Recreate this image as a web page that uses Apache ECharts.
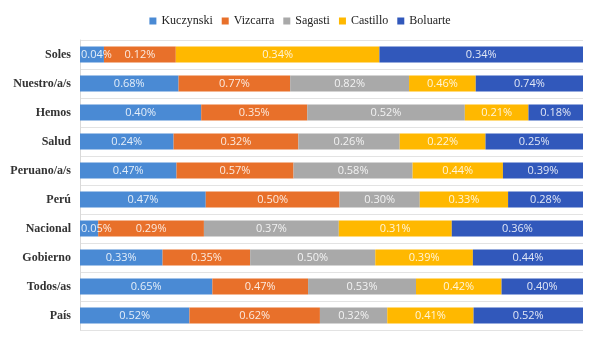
<!DOCTYPE html>
<html>
<head>
<meta charset="utf-8">
<script src="https://cdn.jsdelivr.net/npm/echarts@6/dist/echarts.min.js"></script>
<style>html,body{margin:0;padding:0;background:#fff}#chart{width:600px;height:338px}</style>
</head>
<body>
<div id="chart"></div>
<script>
// Word categories, top to bottom
const categories = ['Soles', 'Nuestro/a/s', 'Hemos', 'Salud', 'Peruano/a/s', 'Perú', 'Nacional', 'Gobierno', 'Todos/as', 'País'];
// Frequency (%) of each word per president
const kuczynski = [0.04, 0.68, 0.40, 0.24, 0.47, 0.47, 0.05, 0.33, 0.65, 0.52];
const vizcarra  = [0.12, 0.77, 0.35, 0.32, 0.57, 0.50, 0.29, 0.35, 0.47, 0.62];
const sagasti   = [0,    0.82, 0.52, 0.26, 0.58, 0.30, 0.37, 0.50, 0.53, 0.32];
const castillo  = [0.34, 0.46, 0.21, 0.22, 0.44, 0.33, 0.31, 0.39, 0.42, 0.41];
const boluarte  = [0.34, 0.74, 0.18, 0.25, 0.39, 0.28, 0.36, 0.44, 0.40, 0.52];

const seriesNames = ['Kuczynski', 'Vizcarra', 'Sagasti', 'Castillo', 'Boluarte'];
const seriesValues = [kuczynski, vizcarra, sagasti, castillo, boluarte];
const colors = ['#4a8ad4', '#e8702a', '#a9a9a9', '#ffb800', '#3158bb'];

// Row totals for the 100% stacked layout
const totals = categories.map((_, i) => seriesValues.reduce((s, arr) => s + arr[i], 0));

const series = seriesNames.map((name, k) => ({
  name,
  type: 'bar',
  stack: 'total',
  barWidth: 16,
  itemStyle: { color: colors[k] },
  label: {
    show: true,
    position: 'inside',
    color: 'rgba(255,255,255,0.85)',
    fontFamily: 'Open Sans',
    fontSize: 11,
    formatter: p => p.data.raw > 0 ? p.data.raw.toFixed(2) + '%' : ''
  },
  data: seriesValues[k].map((v, i) => {
    const share = v / totals[i];
    const item = { value: share, raw: v };
    // very thin first segments keep their label inside the plot, starting at the left edge
    if (k === 0 && share < 0.06) item.label = { position: 'insideLeft', distance: 1 };
    return item;
  })
}));

const chart = echarts.init(document.getElementById('chart'), null, { renderer: 'canvas' });
chart.setOption({
  animation: false,
  legend: {
    top: 10,
    left: 'center',
    itemWidth: 7,
    itemHeight: 7,
    itemGap: 9,
    icon: 'rect',
    textStyle: { fontFamily: 'Liberation Serif', fontSize: 12, color: '#222' },
    data: seriesNames
  },
  grid: { left: 80, right: 17, top: 40, bottom: 8, containLabel: false },
  xAxis: {
    type: 'value',
    min: 0,
    max: 1,
    axisLabel: { show: false },
    axisLine: { show: false },
    axisTick: { show: false },
    splitLine: { show: false }
  },
  yAxis: {
    type: 'category',
    inverse: true,
    data: categories,
    axisTick: { show: false },
    axisLine: { show: true, lineStyle: { color: '#d9d9d9' } },
    splitLine: { show: true, lineStyle: { color: '#e3e3e3', width: 1 } },
    axisLabel: {
      margin: 9,
      fontFamily: 'Liberation Serif',
      fontWeight: 'bold',
      fontSize: 12,
      color: '#333'
    }
  },
  series
});
</script>
</body>
</html>
